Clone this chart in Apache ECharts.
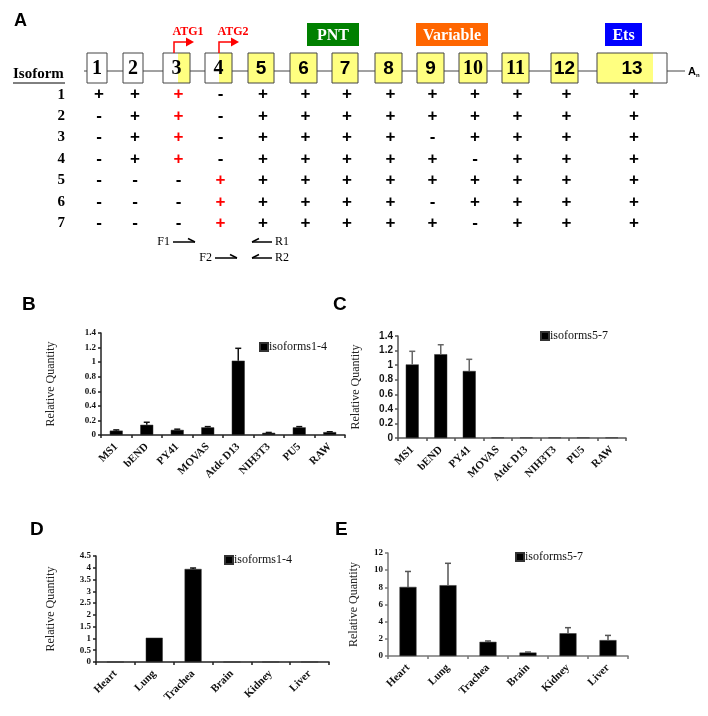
<!DOCTYPE html>
<html><head><meta charset="utf-8">
<script src="https://cdn.jsdelivr.net/npm/echarts@6/dist/echarts.min.js"></script>
<style>html,body{margin:0;padding:0;background:#fff}#main{width:708px;height:716px}</style>
</head><body><div id="main"></div>
<script>
// ---------- Panel A data ----------
const exonNames   = ['1','2','3','4','5','6','7','8','9','10','11','12','13'];
const exonStart   = [87,123,163,205,248,290,332,375,417,459,502,551,597];
const exonEnd     = [107,143,190,232,274,317,358,402,444,487,529,578,667];
const codingStart = [null,null,178,219,248,290,332,375,417,459,502,551,597];
const codingEnd   = [null,null,190,232,274,317,358,402,444,487,529,578,653];
const domainNames = ['PNT','Variable','Ets'];
const domainStart = [307,416,605];
const domainEnd   = [359,488,642];
const atgNames = ['ATG1','ATG2'];
const atgPos   = [174,219];
const polyAEnd = 685;
const isoformNames = ['1','2','3','4','5','6','7'];
const isoformExons = [
  '+++-+++++++++',
  '-++-+++++++++',
  '-++-++++-++++',
  '-++-+++++-+++',
  '---++++++++++',
  '---+++++-++++',
  '---++++++-+++'
];
const primerNames = ['F1','R1','F2','R2'];
const primerFrom  = [173,272,215,272];
const primerTo    = [195,252,237,252];
const primerRow   = [0,0,1,1];

// ---------- Panels B-E data ----------
const cellLines = ['MS1','bEND','PY41','MOVAS','Atdc D13','NIH3T3','PU5','RAW'];
const bValues = [0.06,0.14,0.07,0.105,1.02,0.03,0.105,0.04];
const bErrors = [0.01,0.035,0.01,0.01,0.17,0.005,0.01,0.005];
const cValues = [1.01,1.15,0.92,0.006,0.006,0.006,0.006,0.006];
const cErrors = [0.18,0.13,0.16,0,0,0,0,0];
const tissues = ['Heart','Lung','Trachea','Brain','Kidney','Liver'];
const dValues = [0,1.03,3.95,0,0,0];
const dErrors = [0,0,0.04,0,0,0];
const eValues = [8.05,8.25,1.65,0.4,2.65,1.85];
const eErrors = [1.8,2.55,0.1,0.06,0.65,0.55];
const bAxis = [0,1.4,0.2];
const cAxis = [0,1.4,0.2];
const dAxis = [0,4.5,0.5];
const eAxis = [0,12,2];

const SERIF = 'Liberation Serif';
const SANS = 'Liberation Sans';

const chart = echarts.init(document.getElementById('main'), null, {renderer:'canvas'});

// layout constants for the diagram (y in diagram units, grid 0)
const EXON_TOP = 53, EXON_BOT = 83, LINE_Y = 71;
const DOM_TOP = 23, DOM_BOT = 46;
const PRIMER_Y0 = 242, PRIMER_DY = 16;
const serifNums = new Set(['1','2','3','4','10','11']);

function exonRender(params, api) {
  const i = params.dataIndex;
  const s = api.value(0), e = api.value(1), cs = api.value(2), ce = api.value(3);
  const p0 = api.coord([s, EXON_TOP]), p1 = api.coord([e, EXON_BOT]);
  const children = [
    {type:'rect', shape:{x:p0[0], y:p0[1], width:p1[0]-p0[0], height:p1[1]-p0[1]}, style:{fill:'#fff', stroke:'none'}}
  ];
  if (cs >= 0) {
    const c0 = api.coord([cs, EXON_TOP]), c1 = api.coord([ce, EXON_BOT]);
    children.push({type:'rect', shape:{x:c0[0], y:c0[1], width:c1[0]-c0[0], height:c1[1]-c0[1]}, style:{fill:'#ffff80', stroke:'none'}});
  }
  children.push({type:'rect', shape:{x:p0[0], y:p0[1], width:p1[0]-p0[0], height:p1[1]-p0[1]}, style:{fill:'none', stroke:'#444', lineWidth:1}});
  const name = exonNames[i];
  const serif = serifNums.has(name);
  children.push({type:'text', x:(p0[0]+p1[0])/2, y:(p0[1]+p1[1])/2 + 1,
    style:{text:name, fill:'#000', font:'bold ' + (serif ? '20px ' + SERIF : '19px ' + SANS), align:'center', verticalAlign:'middle'}});
  return {type:'group', children};
}

function backboneRender(params, api) {
  const a = api.coord([api.value(0), LINE_Y]), b = api.coord([api.value(1), LINE_Y]);
  return {type:'group', children:[
    {type:'line', shape:{x1:a[0], y1:a[1], x2:b[0], y2:b[1]}, style:{stroke:'#444', lineWidth:1}},
    {type:'text', x:b[0]+3, y:b[1]+1, style:{text:'{a|A}{n|n}', rich:{a:{font:'bold 11px ' + SANS, fill:'#000'}, n:{font:'bold 6px ' + SANS, fill:'#000', padding:[7,0,0,0]}}, verticalAlign:'middle'}}
  ]};
}

const domainColors = ['#008000','#ff6600','#0000ff'];
function domainRender(params, api) {
  const i = params.dataIndex;
  const p0 = api.coord([api.value(0), DOM_TOP]), p1 = api.coord([api.value(1), DOM_BOT]);
  return {type:'group', children:[
    {type:'rect', shape:{x:p0[0], y:p0[1], width:p1[0]-p0[0], height:p1[1]-p0[1]}, style:{fill:domainColors[i]}},
    {type:'text', x:(p0[0]+p1[0])/2, y:(p0[1]+p1[1])/2+1, style:{text:domainNames[i], fill:'#fff', font:'bold 16px ' + SERIF, align:'center', verticalAlign:'middle'}}
  ]};
}

function atgRender(params, api) {
  const i = params.dataIndex;
  const x = api.value(0);
  const base = api.coord([x, EXON_TOP]);
  const top = api.coord([x, 42]);
  const tip = api.coord([x+20, 42]);
  return {type:'group', children:[
    {type:'polyline', shape:{points:[[base[0],base[1]],[top[0],top[1]],[tip[0]-6,tip[1]]]}, style:{stroke:'#ff0000', lineWidth:1.5, fill:'none'}},
    {type:'polygon', shape:{points:[[tip[0]-8,tip[1]-4.5],[tip[0],tip[1]],[tip[0]-8,tip[1]+4.5]]}, style:{fill:'#ff0000'}},
    {type:'text', x:base[0]+14, y:top[1]-10, style:{text:atgNames[i], fill:'#ff0000', font:'bold 12px ' + SERIF, align:'center', verticalAlign:'middle'}}
  ]};
}

function primerRender(params, api) {
  const i = params.dataIndex;
  const from = api.value(0), to = api.value(1), row = api.value(2);
  const y = PRIMER_Y0 + row * PRIMER_DY;
  const a = api.coord([from, y]), b = api.coord([to, y]);
  const dir = b[0] > a[0] ? 1 : -1;
  const children = [
    {type:'line', shape:{x1:a[0], y1:a[1], x2:b[0], y2:b[1]}, style:{stroke:'#000', lineWidth:1.5}},
    {type:'line', shape:{x1:b[0], y1:b[1], x2:b[0]-dir*7, y2:b[1]-3.5}, style:{stroke:'#000', lineWidth:1.5}}
  ];
  const left = Math.min(a[0], b[0]), right = Math.max(a[0], b[0]);
  if (dir > 0) {
    children.push({type:'text', x:left-3, y:a[1], style:{text:primerNames[i], fill:'#000', font:'12px ' + SERIF, align:'right', verticalAlign:'middle'}});
  } else {
    children.push({type:'text', x:right+3, y:a[1], style:{text:primerNames[i], fill:'#000', font:'12px ' + SERIF, align:'left', verticalAlign:'middle'}});
  }
  return {type:'group', children};
}

function tableRender(params, api) {
  const col = api.value(0), row = api.value(1);
  const sign = isoformExons[row][col];
  const x = (exonStart[col] + exonEnd[col]) / 2 + 2;
  const p = api.coord([x, row]);
  const red = sign === '+' && (col === 2 || col === 3);
  return {type:'text', x:p[0], y:p[1], style:{text:sign, fill: red ? '#ff0000' : '#000', font:'bold 17px ' + SANS, align:'center', verticalAlign:'middle'}};
}

const tableData = [];
isoformExons.forEach((r, ri) => { for (let c = 0; c < r.length; c++) tableData.push([c, ri]); });

// ---------- bar panels ----------
const panels = [
  {cats:cellLines, values:bValues, errors:bErrors, axis:bAxis, name:'isoforms1-4', grid:{left:101, top:333, width:244, height:102}, barWidth:13, tickFont:'serif', errColor:'#111', axisColor:'#222', nameGap:44, legend:{left:259, top:341}},
  {cats:cellLines, values:cValues, errors:cErrors, axis:cAxis, name:'isoforms5-7', grid:{left:398, top:336, width:228, height:102}, barWidth:13, tickFont:'sans', errColor:'#666', axisColor:'#555', nameGap:36, legend:{left:540, top:330}},
  {cats:tissues, values:dValues, errors:dErrors, axis:dAxis, name:'isoforms1-4', grid:{left:96, top:556, width:233, height:106}, barWidth:17, tickFont:'serif', errColor:'#111', axisColor:'#222', nameGap:39, legend:{left:224, top:554}},
  {cats:tissues, values:eValues, errors:eErrors, axis:eAxis, name:'isoforms5-7', grid:{left:388, top:553, width:240, height:103}, barWidth:17, tickFont:'serif', errColor:'#555', axisColor:'#777', nameGap:28, legend:{left:515, top:551}}
];

const grids = [
  {left:0, top:0, width:708, height:265},
  {left:0, top:84, width:708, height:150}
];
const xAxes = [
  {gridIndex:0, type:'value', min:0, max:708, show:false},
  {gridIndex:1, type:'value', min:0, max:708, show:false}
];
const yAxes = [
  {gridIndex:0, type:'value', min:0, max:265, inverse:true, show:false},
  {gridIndex:1, type:'category', data:isoformNames, inverse:true, offset:-73,
   axisLine:{show:false}, axisTick:{show:false}, splitLine:{show:false},
   axisLabel:{margin:8, color:'#000', fontFamily:SERIF, fontWeight:'bold', fontSize:15}}
];
const series = [
  {type:'custom', name:'backbone', xAxisIndex:0, yAxisIndex:0, data:[[exonStart[0]-3, polyAEnd]], renderItem:backboneRender, z:1, silent:true},
  {type:'custom', name:'exons', xAxisIndex:0, yAxisIndex:0, data:exonNames.map((n,i)=>[exonStart[i], exonEnd[i], codingStart[i] ?? -1, codingEnd[i] ?? -1]), renderItem:exonRender, z:2, silent:true},
  {type:'custom', name:'domains', xAxisIndex:0, yAxisIndex:0, data:domainNames.map((n,i)=>[domainStart[i], domainEnd[i]]), renderItem:domainRender, silent:true},
  {type:'custom', name:'atg', xAxisIndex:0, yAxisIndex:0, data:atgPos.map(p=>[p]), renderItem:atgRender, silent:true},
  {type:'custom', name:'primers', xAxisIndex:0, yAxisIndex:0, data:primerNames.map((n,i)=>[primerFrom[i], primerTo[i], primerRow[i]]), renderItem:primerRender, silent:true},
  {type:'custom', name:'table', xAxisIndex:1, yAxisIndex:1, data:tableData, renderItem:tableRender, silent:true}
];
const legends = [];

panels.forEach((p, k) => {
  const gi = grids.length;
  grids.push(p.grid);
  xAxes.push({gridIndex:gi, type:'category', data:p.cats, boundaryGap:true,
    axisLine:{lineStyle:{color:p.axisColor, width:1.5}},
    axisTick:{show:true, length:3, lineStyle:{color:p.axisColor, width:1.5}},
    axisLabel:{interval:0, rotate:45, margin:10, color:'#111', fontFamily:SERIF, fontWeight:'bold', fontSize:11}
  });
  yAxes.push({gridIndex:gi, type:'value', min:p.axis[0], max:p.axis[1], interval:p.axis[2],
    name:'Relative Quantity', nameLocation:'middle', nameGap:p.nameGap, nameRotate:90,
    nameTextStyle:{fontFamily:SERIF, fontSize:12, color:'#222'},
    axisLine:{show:true, lineStyle:{color:p.axisColor, width:1.5}},
    axisTick:{show:true, length:3, lineStyle:{color:p.axisColor, width:1.5}},
    splitLine:{show:false},
    axisLabel:{margin:5, color:'#111', fontWeight:'bold',
      fontFamily: p.tickFont === 'sans' ? SANS : SERIF, fontSize: p.tickFont === 'sans' ? 10 : 9}
  });
  series.push({type:'bar', name:p.name, xAxisIndex:gi, yAxisIndex:gi, data:p.values, barWidth:p.barWidth,
    itemStyle:{color:'#000', borderColor:'#333', borderWidth:0.5}, silent:true, z:2});
  const ec = p.errColor;
  series.push({type:'custom', name:p.name + ' err', xAxisIndex:gi, yAxisIndex:gi, silent:true, z:3,
    data:p.values.map((v,i)=>[i, v, p.errors[i]]),
    renderItem:(params, api) => {
      const x = api.value(0), v = api.value(1), e = api.value(2);
      if (!e) return null;
      const a = api.coord([x, v]), b = api.coord([x, v + e]);
      return {type:'group', children:[
        {type:'line', shape:{x1:a[0], y1:a[1], x2:b[0], y2:b[1]}, style:{stroke:ec, lineWidth:1.5}},
        {type:'line', shape:{x1:b[0]-3, y1:b[1], x2:b[0]+3, y2:b[1]}, style:{stroke:ec, lineWidth:1.5}}
      ]};
    }
  });
  legends.push({data:[p.name], left:p.legend.left, top:p.legend.top, orient:'vertical', padding:0,
    icon:'rect', itemWidth:8, itemHeight:8, itemGap:0, selectedMode:false,
    textStyle:{fontFamily:SERIF, fontSize:12, color:'#111', padding:[0,0,0,-4]}});
});

const letterStyle = (size) => ({fontFamily:SANS, fontWeight:'bold', fontSize:size, color:'#000'});
chart.setOption({
  animation:false,
  backgroundColor:'#fff',
  title:[
    {text:'A', left:14, top:12, padding:0, textStyle:letterStyle(18)},
    {text:'B', left:22, top:295, padding:0, textStyle:letterStyle(19)},
    {text:'C', left:333, top:295, padding:0, textStyle:letterStyle(19)},
    {text:'D', left:30, top:520, padding:0, textStyle:letterStyle(19)},
    {text:'E', left:335, top:520, padding:0, textStyle:letterStyle(19)}
  ],
  graphic:[
    {type:'text', left:13, top:67, style:{text:'Isoform', font:'bold 15px ' + SERIF, fill:'#000'}},
    {type:'line', shape:{x1:13, y1:83, x2:65, y2:83}, style:{stroke:'#000', lineWidth:1}}
  ],
  legend:legends,
  grid:grids,
  xAxis:xAxes,
  yAxis:yAxes,
  series:series
});
</script>
</body></html>
